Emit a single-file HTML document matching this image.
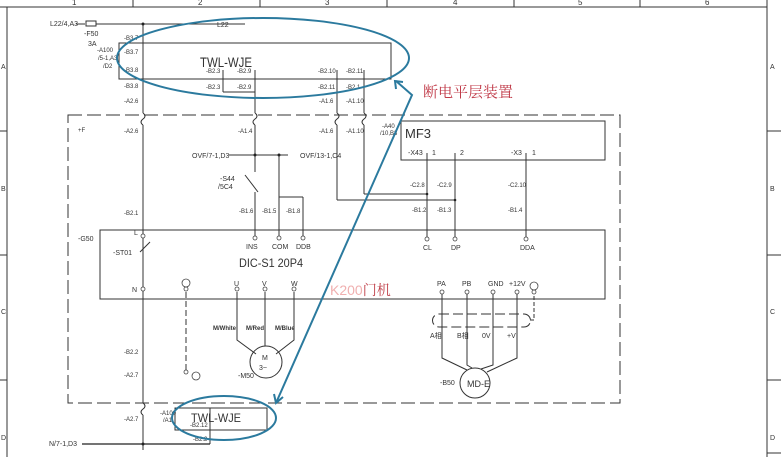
<!DOCTYPE html>
<html><head><meta charset="utf-8"><style>
html,body{margin:0;padding:0;background:#fff;}
svg{display:block}
text{font-family:"Liberation Sans",sans-serif;fill:#333}
.s{font-size:6px}
.m{font-size:7px}
</style></head><body>
<svg width="781" height="457" viewBox="0 0 781 457" xmlns="http://www.w3.org/2000/svg">
<g stroke="#333" stroke-width="1" fill="none">
<line x1="0" y1="7" x2="767" y2="7"/>
<line x1="7" y1="7" x2="7" y2="457"/>
<line x1="767" y1="0" x2="767" y2="457"/>
<line x1="133" y1="0" x2="133" y2="7"/><line x1="260" y1="0" x2="260" y2="7"/><line x1="387" y1="0" x2="387" y2="7"/><line x1="514" y1="0" x2="514" y2="7"/><line x1="640" y1="0" x2="640" y2="7"/>
<line x1="0" y1="131" x2="7" y2="131"/><line x1="0" y1="255" x2="7" y2="255"/><line x1="0" y1="380" x2="7" y2="380"/>
<line x1="767" y1="131" x2="781" y2="131"/><line x1="767" y1="255" x2="781" y2="255"/><line x1="767" y1="380" x2="781" y2="380"/>
<line x1="767" y1="453" x2="781" y2="453"/>
<line x1="76" y1="24" x2="85" y2="24"/><rect x="86" y="21" width="10" height="5"/>
<line x1="96" y1="24" x2="245" y2="24"/>
<rect x="119" y="43" width="272" height="36"/>
<line x1="143" y1="24" x2="143" y2="113"/>
<path d="M143,113 q4,3 0,6 q-4,3 0,6"/>
<line x1="143" y1="125" x2="143" y2="403"/>
<path d="M143,403 q4,3 0,6 q-4,3 0,6"/>
<line x1="143" y1="415" x2="143" y2="450"/>
<line x1="255" y1="70" x2="255" y2="113"/>
<path d="M255,113 q4,3 0,6 q-4,3 0,6"/>
<line x1="255" y1="125" x2="255" y2="172"/>
<line x1="245" y1="175" x2="258" y2="192"/>
<line x1="255" y1="192" x2="255" y2="236"/>
<line x1="223" y1="70" x2="223" y2="92"/><line x1="223" y1="92" x2="255" y2="92"/>
<line x1="337" y1="70" x2="337" y2="113"/><path d="M337,113 q4,3 0,6 q-4,3 0,6"/><line x1="337" y1="125" x2="337" y2="200"/>
<line x1="364" y1="70" x2="364" y2="113"/><path d="M364,113 q4,3 0,6 q-4,3 0,6"/><line x1="364" y1="125" x2="364" y2="194"/>
<line x1="364" y1="194" x2="427" y2="194"/>
<line x1="337" y1="200" x2="455" y2="200"/>
<line x1="229" y1="155" x2="288" y2="155"/>
<line x1="279" y1="155" x2="279" y2="236"/>
<line x1="279" y1="197" x2="303" y2="197"/><line x1="303" y1="197" x2="303" y2="236"/>
<rect x="68" y="115" width="552" height="288" stroke-dasharray="14,5"/>
<rect x="401" y="121" width="204" height="39"/>
<line x1="427" y1="153" x2="427" y2="237"/>
<line x1="455" y1="153" x2="455" y2="237"/>
<line x1="526" y1="153" x2="526" y2="237"/>
<rect x="100" y="230" width="505" height="69"/>
<line x1="140" y1="252" x2="150" y2="242"/>
<line x1="186" y1="292" x2="186" y2="372" stroke-dasharray="6,3"/>
<path d="M237,292 V340 L256,354"/><path d="M265,292 V346"/><path d="M294,292 V340 L276,354"/>
<circle cx="266" cy="362" r="16"/>
<path d="M442,292 V358 L467,370"/><path d="M467,292 V365 L472,368"/><path d="M493,292 V365 L481,369"/><path d="M517,292 V358 L487,372"/>
<circle cx="475" cy="383" r="15"/>
<path d="M439,314 H524 a6.5,6.5 0 0 1 0,13 H439 a6.5,6.5 0 0 1 0,-13" stroke-dasharray="10,4"/>
<path d="M530,320 H534 V294" stroke-dasharray="4,2"/>
<rect x="175" y="408" width="92" height="22"/>
<line x1="210" y1="408" x2="210" y2="444"/>
<line x1="82" y1="444" x2="210" y2="444" stroke="#222" stroke-width="1.2"/>
</g>
<g fill="#fff" stroke="#444" stroke-width="0.8">
<circle cx="143" cy="236" r="2"/><circle cx="255" cy="238" r="2"/><circle cx="279" cy="238" r="2"/><circle cx="303" cy="238" r="2"/>
<circle cx="427" cy="239" r="2"/><circle cx="455" cy="239" r="2"/><circle cx="526" cy="239" r="2"/>
<circle cx="143" cy="289" r="2"/><circle cx="186" cy="289" r="2"/><circle cx="237" cy="289" r="2"/><circle cx="265" cy="289" r="2"/><circle cx="294" cy="289" r="2"/>
<circle cx="442" cy="292" r="2"/><circle cx="467" cy="292" r="2"/><circle cx="493" cy="292" r="2"/><circle cx="517" cy="292" r="2"/><circle cx="534" cy="292" r="2"/>
<circle cx="186" cy="372" r="2"/>
<circle cx="186" cy="283" r="4"/><circle cx="196" cy="376" r="4"/><circle cx="534" cy="286" r="4"/>
</g>
<g fill="#222"><circle cx="143" cy="24" r="1.5"/><circle cx="255" cy="155" r="1.5"/><circle cx="279" cy="155" r="1.5"/><circle cx="427" cy="194" r="1.3"/><circle cx="455" cy="200" r="1.3"/><circle cx="143" cy="444" r="1.5"/></g>
<g class="m">
<text x="72" y="5" font-size="8">1</text><text x="198" y="5" font-size="8">2</text><text x="325" y="5" font-size="8">3</text><text x="453" y="5" font-size="8">4</text><text x="578" y="5" font-size="8">5</text><text x="705" y="5" font-size="8">6</text>
<text x="1" y="69">A</text><text x="1" y="191">B</text><text x="1" y="314">C</text><text x="1" y="440">D</text>
<text x="770" y="69">A</text><text x="770" y="191">B</text><text x="770" y="314">C</text><text x="770" y="440">D</text>
<text x="50" y="26">L22/4,A3</text><text x="84" y="36">-F50</text><text x="88" y="46">3A</text><text x="217" y="27">L22</text>
<text x="97" y="52" class="s">-A100</text><text x="98" y="60" class="s">/5-1,A3</text><text x="103" y="68" class="s">/D2</text>
<text x="300" y="158">OVF/13-1,C4</text><text x="192" y="158">OVF/7-1,D3</text>
<text x="220" y="181">-S44</text><text x="218" y="189">/5C4</text>
<text x="78" y="241">-G50</text><text x="134" y="235">L</text><text x="113" y="255">-ST01</text>
<text x="246" y="249">INS</text><text x="272" y="249">COM</text><text x="296" y="249">DDB</text>
<text x="423" y="250">CL</text><text x="451" y="250">DP</text><text x="520" y="250">DDA</text>
<text x="132" y="292">N</text><text x="234" y="286">U</text><text x="262" y="286">V</text><text x="291" y="286">W</text>
<text x="437" y="286">PA</text><text x="462" y="286">PB</text><text x="488" y="286">GND</text><text x="509" y="286">+12V</text>
<text x="213" y="330" class="s" font-weight="bold">M/White</text><text x="246" y="330" class="s" font-weight="bold">M/Red</text><text x="275" y="330" class="s" font-weight="bold">M/Blue</text>
<text x="262" y="360">M</text><text x="259" y="370">3~</text><text x="238" y="378">-M50</text>
<text x="440" y="385">-B50</text>
<text x="430" y="338">A相</text><text x="457" y="338">B相</text><text x="482" y="338">0V</text><text x="507" y="338">+V</text>
<text x="78" y="132" class="s">+F</text>
<text x="49" y="446">N/7-1,D3</text>
<text x="160" y="415" class="s">-A100</text><text x="163" y="422" class="s">/A1</text>
</g>
<g class="s">
<text x="124" y="40">-B3.7</text><text x="124" y="54">-B3.7</text><text x="124" y="72">-B3.8</text><text x="124" y="88">-B3.8</text><text x="124" y="103">-A2.6</text><text x="124" y="133">-A2.6</text><text x="124" y="215">-B2.1</text><text x="124" y="354">-B2.2</text><text x="124" y="377">-A2.7</text><text x="124" y="421">-A2.7</text>
<text x="206" y="73">-B2.3</text><text x="237" y="73">-B2.9</text><text x="206" y="89">-B2.3</text><text x="237" y="89">-B2.9</text><text x="238" y="133">-A1.4</text>
<text x="318" y="73">-B2.10</text><text x="346" y="73">-B2.11</text><text x="318" y="89">-B2.11</text><text x="346" y="89">-B2.1</text><text x="319" y="103">-A1.6</text><text x="346" y="103">-A1.10</text><text x="319" y="133">-A1.6</text><text x="346" y="133">-A1.10</text>
<text x="382" y="128">-A40</text><text x="380" y="135">/10,B3</text>
<text x="239" y="213">-B1.6</text><text x="262" y="213">-B1.5</text><text x="286" y="213">-B1.8</text>
<text x="408" y="155" font-size="7">-X43</text><text x="432" y="155" font-size="7">1</text><text x="460" y="155" font-size="7">2</text><text x="511" y="155" font-size="7">-X3</text><text x="532" y="155" font-size="7">1</text>
<text x="410" y="187">-C2.8</text><text x="437" y="187">-C2.9</text><text x="508" y="187">-C2.10</text>
<text x="412" y="212">-B1.2</text><text x="437" y="212">-B1.3</text><text x="508" y="212">-B1.4</text>
<text x="190" y="427">-B2.12</text><text x="193" y="441">-B2.2</text>
</g>
<text x="405" y="138" font-size="13">MF3</text>
<text x="200" y="67" font-size="14" textLength="52" lengthAdjust="spacingAndGlyphs">TWL-WJE</text>
<text x="239" y="267" font-size="12" textLength="64" lengthAdjust="spacingAndGlyphs">DIC-S1 20P4</text>
<text x="191" y="422" font-size="12" textLength="50" lengthAdjust="spacingAndGlyphs">TWL-WJE</text>
<text x="467" y="387" font-size="9">MD-E</text>
<text x="330" y="295" font-size="14" style="font-family:'Liberation Sans','Noto Serif CJK SC',sans-serif;fill:#f0b0b0">K200<tspan style="fill:#c0404a">门机</tspan></text>
<text x="423" y="97" font-size="15" style="font-family:'Noto Serif CJK SC',serif;fill:#c03a48">断电平层装置</text>
<g stroke="#2b7a9e" stroke-width="2" fill="none">
<ellipse cx="263" cy="58" rx="146" ry="40"/>
<ellipse cx="224" cy="418" rx="52" ry="22"/>
<polyline points="276,403 412,95 396,81"/>
<polyline points="396,89 395,81 403,82"/>
<polyline points="274,394 276,403 283,397"/>
</g>
</svg>
</body></html>
